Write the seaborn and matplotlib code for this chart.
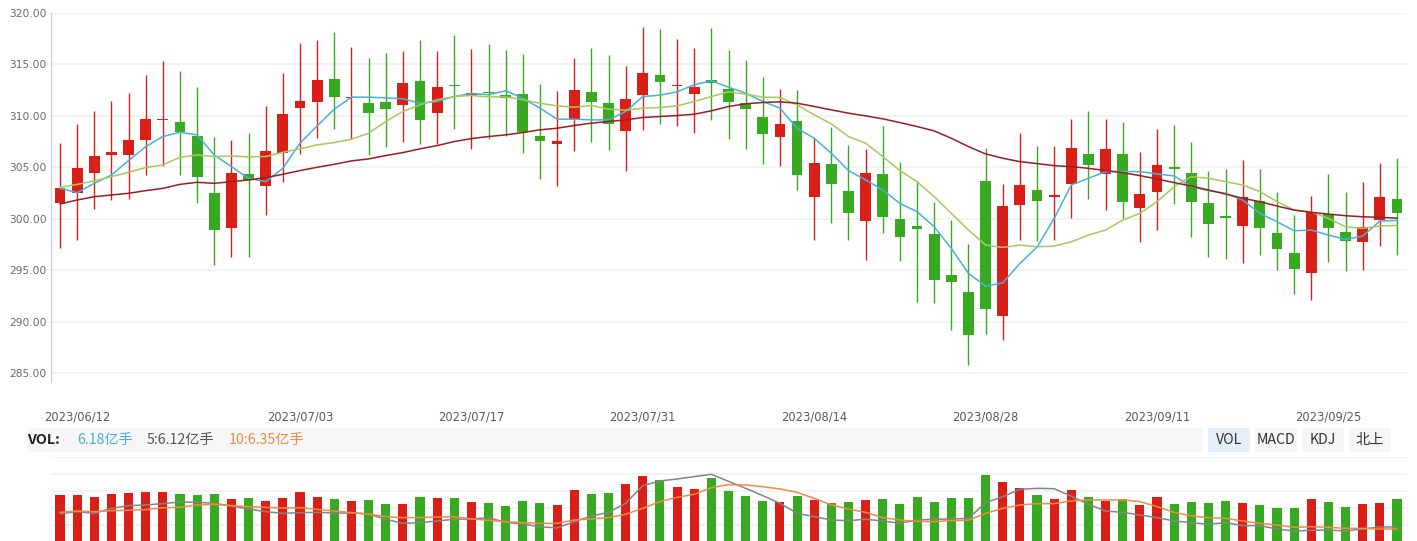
import numpy as np
import pandas as pd
import matplotlib
matplotlib.use("Agg")
import matplotlib.pyplot as plt
import seaborn as sns
from matplotlib.patches import Rectangle
from matplotlib.transforms import blended_transform_factory

# ---------------- data ----------------
open_ = [301.49, 302.53, 304.48, 306.23, 306.20, 307.66, 309.55, 309.42, 308.05, 302.50,
         299.09, 304.35, 303.21, 306.40, 310.81, 311.36, 313.60, 311.69, 311.27, 311.36,
         311.10, 313.41, 310.23, 313.02, 312.01, 312.34, 312.05, 312.14, 308.05, 307.31,
         309.74, 312.34, 311.27, 308.57, 311.98, 313.99, 312.86, 312.08, 313.51, 312.63,
         311.27, 309.90, 307.99, 309.51, 302.14, 305.32, 302.69, 299.81, 304.35, 299.97,
         299.29, 298.51, 294.51, 292.86, 303.67, 290.55, 301.36, 302.79, 302.14, 303.41,
         306.30, 304.38, 306.30, 301.07, 302.63, 305.03, 304.45, 301.53, 300.26, 299.32,
         301.72, 298.60, 296.66, 294.74, 300.45, 298.70, 297.76, 299.90, 301.92]
close = [302.95, 304.90, 306.10, 306.49, 307.66, 309.71, 309.71, 308.41, 304.09, 298.93,
         304.45, 303.73, 306.59, 310.19, 311.46, 313.51, 311.85, 311.85, 310.23, 310.71,
         313.21, 309.64, 312.82, 312.86, 312.21, 312.24, 311.69, 308.47, 307.60, 307.57,
         312.53, 311.30, 309.25, 311.66, 314.19, 313.34, 313.02, 312.82, 313.15, 311.30,
         310.62, 308.28, 309.22, 304.29, 305.42, 303.41, 300.58, 304.45, 300.19, 298.25,
         299.03, 294.06, 293.86, 288.70, 291.23, 301.23, 303.28, 301.75, 302.27, 306.88,
         305.26, 306.79, 301.66, 302.40, 305.23, 304.87, 301.66, 299.51, 300.10, 302.11,
         299.12, 297.08, 295.13, 300.65, 299.12, 297.86, 299.19, 302.11, 300.58]
high = [307.34, 309.22, 310.49, 311.46, 312.24, 314.00, 315.36, 314.32, 312.82, 307.95,
        307.66, 308.34, 310.97, 314.19, 317.11, 317.40, 318.18, 316.72, 315.65, 316.14,
        316.33, 317.40, 316.33, 317.89, 316.53, 317.00, 316.43, 316.04, 313.12, 312.44,
        315.65, 316.62, 315.94, 314.87, 318.67, 318.47, 317.50, 316.62, 318.57, 316.43,
        315.45, 313.80, 312.63, 312.53, 307.86, 308.93, 307.18, 306.79, 309.03, 305.52,
        303.67, 301.62, 299.87, 297.53, 306.88, 303.38, 308.34, 307.08, 307.08, 309.71,
        310.49, 309.71, 309.42, 306.49, 308.73, 309.12, 307.47, 304.64, 304.84, 305.71,
        304.84, 302.60, 300.36, 302.21, 304.35, 302.60, 303.57, 305.42, 305.91]
low = [297.18, 297.92, 300.94, 301.82, 301.92, 304.25, 305.16, 304.25, 301.56, 295.49,
       296.30, 296.30, 300.36, 303.60, 306.30, 307.89, 308.73, 307.76, 306.20, 307.01,
       307.47, 307.27, 307.27, 308.77, 306.79, 307.79, 308.08, 306.40, 303.90, 303.21,
       306.62, 307.50, 306.72, 304.68, 308.67, 309.16, 309.06, 308.38, 309.55, 307.79,
       306.82, 305.36, 305.16, 302.82, 297.95, 299.61, 297.95, 296.01, 298.64, 295.91,
       291.92, 291.82, 289.19, 285.78, 288.80, 288.21, 297.95, 297.86, 297.95, 300.10,
       301.95, 300.88, 300.10, 297.76, 298.93, 301.46, 298.25, 296.30, 296.10, 295.71,
       296.49, 295.03, 292.69, 292.11, 295.81, 294.94, 295.03, 297.37, 296.49]
ma5 = [302.95, 302.53, 303.44, 304.25, 305.65, 307.01, 307.99, 308.41, 308.15, 306.20,
       305.06, 303.93, 303.60, 304.90, 307.34, 309.03, 310.65, 311.82, 311.82, 311.75,
       311.66, 311.23, 311.40, 311.88, 312.18, 312.05, 312.44, 311.72, 310.75, 309.68,
       309.68, 309.61, 309.61, 310.42, 311.88, 312.01, 312.34, 313.02, 313.41, 312.79,
       312.21, 311.40, 310.75, 308.80, 307.82, 306.36, 304.68, 303.77, 302.79, 301.49,
       300.68, 299.22, 297.11, 294.68, 293.44, 293.77, 295.65, 297.24, 300.03, 303.28,
       303.93, 304.58, 304.58, 304.58, 304.35, 304.16, 303.12, 302.73, 302.47, 301.82,
       300.52, 299.71, 298.83, 298.90, 298.41, 297.99, 298.31, 299.77, 299.84]
ma10 = [303.05, 303.34, 303.67, 304.09, 304.51, 304.97, 305.23, 305.97, 306.20, 306.04,
        306.10, 306.01, 306.04, 306.46, 306.79, 307.18, 307.40, 307.73, 308.31, 309.45,
        310.42, 311.07, 311.56, 311.88, 311.98, 311.85, 311.85, 311.56, 311.23, 310.97,
        310.84, 311.01, 310.65, 310.55, 310.75, 310.81, 310.97, 311.40, 311.88, 312.34,
        312.11, 311.82, 311.79, 311.07, 310.10, 309.22, 307.99, 307.34, 306.04, 304.68,
        303.60, 302.14, 300.52, 298.90, 297.44, 297.21, 297.44, 297.27, 297.34, 297.76,
        298.41, 298.90, 299.87, 300.52, 301.66, 303.12, 304.09, 303.93, 303.60, 303.28,
        302.63, 301.66, 300.84, 300.65, 300.03, 299.22, 299.06, 299.29, 299.35]
ma30 = [301.43, 301.82, 302.14, 302.31, 302.47, 302.73, 302.95, 303.34, 303.54, 303.44,
        303.60, 303.77, 303.99, 304.32, 304.68, 305.00, 305.29, 305.62, 305.81, 306.14,
        306.43, 306.79, 307.11, 307.50, 307.79, 307.99, 308.15, 308.38, 308.64, 308.80,
        309.06, 309.29, 309.45, 309.61, 309.84, 309.94, 310.03, 310.16, 310.49, 310.91,
        311.17, 311.30, 311.36, 311.23, 310.91, 310.58, 310.26, 310.00, 309.71, 309.35,
        308.96, 308.54, 307.82, 307.01, 306.30, 305.88, 305.55, 305.36, 305.16, 305.06,
        304.90, 304.68, 304.48, 304.19, 303.86, 303.51, 303.18, 302.79, 302.40, 301.98,
        301.66, 301.23, 300.84, 300.62, 300.45, 300.29, 300.19, 300.13, 300.06]
volume = [6.75, 6.75, 6.47, 6.90, 7.04, 7.19, 7.19, 6.90, 6.75, 6.90,
          6.18, 6.32, 5.89, 6.32, 7.19, 6.47, 6.18, 5.89, 6.04, 5.46,
          5.46, 6.47, 6.32, 6.32, 5.75, 5.60, 5.17, 5.89, 5.60, 5.32,
          7.47, 6.90, 7.04, 8.33, 9.48, 8.91, 7.90, 7.62, 9.20, 7.33,
          6.61, 5.89, 5.75, 6.61, 6.04, 5.60, 5.75, 6.04, 6.18, 5.46,
          6.47, 5.75, 6.32, 6.32, 9.63, 8.62, 7.76, 6.75, 6.18, 7.47,
          6.47, 5.89, 6.18, 5.32, 6.47, 5.46, 5.75, 5.60, 5.89, 5.60,
          5.32, 4.89, 4.89, 6.18, 5.75, 5.03, 5.46, 5.60, 6.18]
vol_ma5 = [4.07, 4.36, 4.12, 4.84, 5.22, 5.32, 5.51, 5.75, 5.70, 5.56,
           5.17, 4.74, 4.36, 4.12, 4.22, 4.26, 4.17, 4.17, 4.02, 3.26,
           2.68, 2.78, 3.02, 3.26, 3.31, 3.50, 2.83, 2.59, 2.20, 2.01,
           2.92, 3.74, 4.26, 5.56, 8.10, 8.77, 9.05, 9.39, 9.72, 8.72,
           7.71, 6.66, 5.56, 4.12, 3.64, 3.16, 3.07, 3.26, 3.02, 2.68,
           3.16, 3.26, 3.31, 3.40, 5.65, 6.51, 7.57, 7.71, 7.66, 6.58,
           5.41, 4.45, 4.26, 3.88, 3.50, 3.02, 2.78, 2.54, 2.78, 2.35,
           2.35, 1.87, 1.58, 1.68, 1.72, 1.58, 1.87, 2.16, 2.16]
vol_ma10 = [4.26, 4.45, 4.36, 4.50, 4.55, 4.65, 4.93, 4.98, 5.32, 5.41,
            5.22, 5.08, 4.98, 4.89, 4.93, 4.69, 4.45, 4.22, 4.02, 3.64,
            3.50, 3.50, 3.59, 3.64, 3.31, 3.11, 2.92, 2.78, 2.68, 2.68,
            3.16, 3.31, 3.50, 3.98, 4.84, 5.80, 6.42, 6.85, 7.81, 8.24,
            8.19, 7.95, 7.62, 7.14, 6.27, 5.32, 4.74, 4.26, 3.50, 3.16,
            2.97, 2.92, 3.07, 3.12, 4.12, 4.84, 5.32, 5.51, 5.51, 5.90,
            6.04, 6.04, 6.04, 5.80, 5.08, 4.26, 3.74, 3.50, 3.40, 3.02,
            2.68, 2.44, 2.11, 2.20, 2.11, 1.96, 1.96, 1.87, 1.87]
tick_labels = ["2023/06/12", "2023/07/03", "2023/07/17", "2023/07/31",
               "2023/08/14", "2023/08/28", "2023/09/11", "2023/09/25"]
holidays = ["2023-06-22", "2023-06-23", "2023-09-29", "2023-10-02", "2023-10-03",
            "2023-10-04", "2023-10-05", "2023-10-06"]
legend_items = ["6.18亿手", "5:6.12亿手", "10:6.35亿手"]
buttons = ["VOL", "MACD", "KDJ", "北上"]

# ---------------- style ----------------
sns.set_theme(style="white")
plt.rcParams["font.family"] = ["Noto Sans CJK SC", "DejaVu Sans"]

RED = "#da1f18"
GREEN = "#38aa22"
C_MA5 = "#45b2da"
C_MA10 = "#a6c95c"
C_MA30 = "#9a1d24"
C_VMA5 = "#858585"
C_VMA10 = "#f08a45"
GRID = "#f0f1f4"

W, H = 1417, 541
fig = plt.figure(figsize=(W / 100, H / 100), dpi=100)
fig.patch.set_facecolor("white")

def fx(x):
    return x / W

def fy(y):
    return 1 - y / H

n = len(close)
idx = np.arange(n)
dates = pd.bdate_range("2023-06-09", "2023-10-09", freq="C", holidays=holidays)
date_strs = [d.strftime("%Y/%m/%d") for d in dates][:n]

o = np.array(open_); c = np.array(close)
up = c >= o
colors = np.where(up, RED, GREEN)

band = (1397 - 60) / 78.0
xl = (0 - (60 - 51) / band, (n - 1) + (1407 - 1397) / band)

# ---------------- price panel ----------------
axp = fig.add_axes([fx(51), fy(382), fx(1407) - fx(51), fy(13) - fy(382)])
ymin = 285 - (382 - 373) / (360 / 35)
axp.set_ylim(ymin, 320)
axp.set_xlim(*xl)
yt = np.arange(285, 321, 5)
for v in yt:
    axp.axhline(v, color=GRID, lw=1.2, zorder=0)
axp.set_yticks(yt)
axp.set_yticklabels([f"{v:.2f}" for v in yt], fontsize=7.7, color="#6a6a6a",
                    family="DejaVu Sans")
axp.tick_params(axis="y", length=0, pad=3)
axp.set_xticks([])
for s in ["top", "right", "bottom"]:
    axp.spines[s].set_visible(False)
axp.spines["left"].set_color("#ccd3de")
axp.spines["left"].set_linewidth(1.0)

axp.vlines(idx, low, high, colors=colors, lw=1.0, zorder=2)
body_h = np.maximum(np.abs(c - o), 0.12)
axp.bar(idx, body_h, bottom=np.minimum(o, c), width=0.63, color=colors,
        edgecolor="none", zorder=3)

sns.lineplot(x=idx, y=ma5, ax=axp, color=C_MA5, lw=1.1, zorder=4)
sns.lineplot(x=idx, y=ma10, ax=axp, color=C_MA10, lw=1.1, zorder=4)
sns.lineplot(x=idx, y=ma30, ax=axp, color=C_MA30, lw=1.1, zorder=4)
axp.set_xlabel(""); axp.set_ylabel("")
axp.set_xlim(*xl)

# date labels
tr = blended_transform_factory(axp.transData, fig.transFigure)
for t in tick_labels:
    i = date_strs.index(t)
    axp.text(i, fy(417), t, transform=tr, ha="center", va="center",
             fontsize=8.3, color="#5a5a5a", family="DejaVu Sans", clip_on=False)

# ---------------- legend row ----------------
fig.add_artist(Rectangle((fx(27), fy(452)), fx(1203) - fx(27), fy(428) - fy(452),
                         transform=fig.transFigure, facecolor="#f6f6f6",
                         edgecolor="none", zorder=0))
fig.text(fx(27), fy(440), "VOL:", ha="left", va="center", fontsize=10.3,
         fontweight="bold", color="#222222")
for txt, xpos, col in zip(legend_items, [77, 147, 229], [C_MA5, "#555555", C_VMA10]):
    fig.text(fx(xpos), fy(440), txt, ha="left", va="center", fontsize=10.2, color=col)

btn_x = [(1208, 1250), (1255, 1297), (1302, 1344), (1349, 1391)]
btn_bg = ["#e6eef9", "#f5f5f5", "#f5f5f5", "#f5f5f5"]
for label, (x0, x1), bg in zip(buttons, btn_x, btn_bg):
    fig.add_artist(Rectangle((fx(x0), fy(452)), fx(x1) - fx(x0), fy(428) - fy(452),
                             transform=fig.transFigure, facecolor=bg,
                             edgecolor="none", zorder=0))
    fig.text(fx((x0 + x1) / 2), fy(440), label, ha="center", va="center",
             fontsize=10.2, color="#333333")

# ---------------- volume panel ----------------
axv = fig.add_axes([fx(51), fy(542), fx(1407) - fx(51), fy(457) - fy(542)])
vtop = 12.21
df = pd.DataFrame({"idx": idx, "vol": volume})
sns.barplot(data=df, x="idx", y="vol", width=0.53, native_scale=True, ax=axv,
            color=RED, saturation=1, zorder=2)
for patch, col in zip(axv.patches, colors):
    patch.set_facecolor(col)
    patch.set_edgecolor("none")
sns.lineplot(x=idx, y=vol_ma5, ax=axv, color=C_VMA5, lw=1.1, zorder=4)
sns.lineplot(x=idx, y=vol_ma10, ax=axv, color=C_VMA10, lw=1.1, zorder=4)
axv.set_xlim(*xl)
axv.set_ylim(0, vtop)
for v in np.linspace(0, vtop, 6):
    axv.axhline(v, color=GRID, lw=1.2, zorder=0)
axv.set_xticks([]); axv.set_yticks([])
axv.set_xlabel(""); axv.set_ylabel("")
for s in axv.spines.values():
    s.set_visible(False)
axv.patch.set_alpha(0)

fig.savefig("out.png", dpi=100, facecolor="white")
